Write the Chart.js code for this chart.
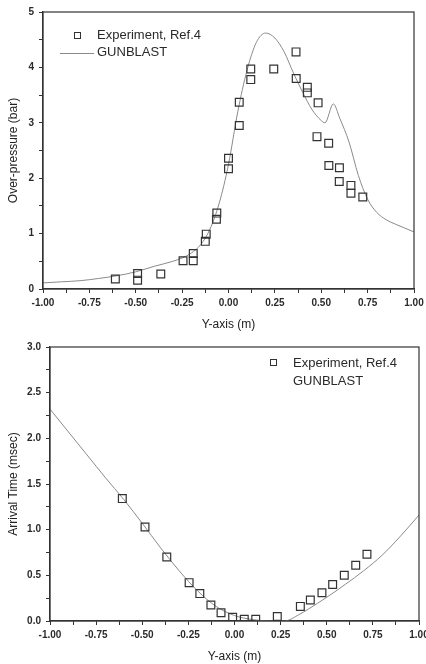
<!DOCTYPE html>
<html>
<head>
<meta charset="utf-8">
<script src="https://cdn.jsdelivr.net/npm/chart.js@4.4.1/dist/chart.umd.min.js"></script>
<style>
  html, body { margin: 0; padding: 0; background: #ffffff; }
  body { width: 426px; height: 664px; position: relative; overflow: hidden; font-family: "Liberation Sans", Arial, sans-serif; }
  .wrap { position: absolute; left: 0; width: 426px; height: 332px; }
  #w1 { top: 0; }
  #w2 { top: 332px; }
  .leg { position: absolute; font-size: 13px; color: #2a2a2a; line-height: 16px; white-space: nowrap; }
  .sq { position: absolute; width: 5px; height: 5px; border: 1px solid #333; }
  .ln { position: absolute; height: 0; border-top: 1px solid #8a8a8a; }
</style>
</head>
<body>
<div class="wrap" id="w1"><canvas id="c1" width="426" height="332"></canvas></div>
<div class="wrap" id="w2"><canvas id="c2" width="426" height="332"></canvas></div>

<!-- legend chart 1 -->
<div class="sq" style="left:74px;top:32px;"></div>
<div class="leg" style="left:97px;top:27px;">Experiment, Ref.4</div>
<div class="ln" style="left:60px;top:53px;width:34px;"></div>
<div class="leg" style="left:97px;top:44px;">GUNBLAST</div>

<!-- legend chart 2 -->
<div class="sq" style="left:270px;top:359px;"></div>
<div class="leg" style="left:293px;top:355px;">Experiment, Ref.4</div>
<div class="leg" style="left:293px;top:373px;">GUNBLAST</div>

<script>
// ---------- Chart 1: over-pressure ----------
const opExpX = [-0.61, -0.49, -0.49, -0.365, -0.245, -0.19, -0.19, -0.125, -0.12, -0.065, -0.063,
                0.0, 0.0, 0.058, 0.058, 0.12, 0.12, 0.244, 0.364, 0.365, 0.425, 0.425, 0.483,
                0.477, 0.54, 0.541, 0.598, 0.597, 0.66, 0.66, 0.724];
const opExpY = [0.18, 0.16, 0.28, 0.27, 0.51, 0.51, 0.64, 0.86, 0.99, 1.26, 1.37,
                2.17, 2.36, 2.95, 3.37, 3.78, 3.97, 3.97, 4.28, 3.80, 3.64, 3.54, 3.36,
                2.75, 2.63, 2.23, 2.19, 1.94, 1.87, 1.73, 1.66];
const opGunX = [-1.0, -0.9, -0.8, -0.7, -0.6, -0.5, -0.4, -0.3, -0.25, -0.2, -0.15, -0.1, -0.05,
                0.0, 0.05, 0.1, 0.15, 0.2, 0.25, 0.3, 0.35, 0.4, 0.45, 0.5, 0.52, 0.565,
                0.6, 0.65, 0.7, 0.75, 0.8, 0.85, 0.9, 0.95, 1.0];
const opGunY = [0.11, 0.13, 0.15, 0.19, 0.24, 0.31, 0.41, 0.50, 0.56, 0.65, 0.80, 1.08, 1.55,
                2.25, 3.2, 3.95, 4.45, 4.62, 4.53, 4.28, 3.9, 3.55, 3.24, 3.04, 3.0, 3.34,
                3.08, 2.65, 2.05, 1.62, 1.38, 1.25, 1.17, 1.1, 1.03];

// ---------- Chart 2: arrival time ----------
const atExpX = [-0.608, -0.485, -0.367, -0.246, -0.188, -0.128, -0.073, -0.01, 0.053, 0.115, 0.232,
                0.357, 0.411, 0.474, 0.532, 0.595, 0.657, 0.718];
const atExpY = [1.34, 1.03, 0.70, 0.42, 0.30, 0.175, 0.09, 0.04, 0.02, 0.02, 0.05,
                0.16, 0.23, 0.31, 0.40, 0.50, 0.61, 0.73];
const atGunX = [-1.0, -0.9, -0.8, -0.7, -0.6, -0.5, -0.4, -0.3, -0.2, -0.1, 0.0, 0.1, 0.2, 0.27,
                0.35, 0.4, 0.5, 0.6, 0.7, 0.8, 0.9, 1.0];
const atGunY = [2.32, 2.07, 1.82, 1.57, 1.33, 1.07, 0.80, 0.55, 0.33, 0.16, 0.06, 0.015, 0.0, 0.0,
                0.07, 0.13, 0.26, 0.40, 0.55, 0.72, 0.93, 1.16];

// ---------- ticks ----------
const xMajorTicks = [-1.0, -0.75, -0.5, -0.25, 0.0, 0.25, 0.5, 0.75, 1.0];
const xMajorLabels = ['-1.00', '-0.75', '-0.50', '-0.25', '0.00', '0.25', '0.50', '0.75', '1.00'];
const xMinorTicks = [-0.875, -0.625, -0.375, -0.125, 0.125, 0.375, 0.625, 0.875];
const op_yMajorTicks = [0, 1, 2, 3, 4, 5];
const op_yMajorLabels = ['0', '1', '2', '3', '4', '5'];
const op_yMinorTicks = [0.5, 1.5, 2.5, 3.5, 4.5];
const at_yMajorTicks = [0, 0.5, 1.0, 1.5, 2.0, 2.5, 3.0];
const at_yMajorLabels = ['0.0', '0.5', '1.0', '1.5', '2.0', '2.5', '3.0'];
const at_yMinorTicks = [0.25, 0.75, 1.25, 1.75, 2.25, 2.75];

const zip = (xs, ys) => xs.map((x, i) => ({ x: x, y: ys[i] }));

const boxPlugin = {
  id: 'box',
  afterDraw(chart) {
    const a = chart.chartArea, ctx = chart.ctx;
    ctx.save();
    ctx.strokeStyle = '#333';
    ctx.lineWidth = 1.2;
    ctx.strokeRect(a.left, a.top, a.right - a.left, a.bottom - a.top);
    ctx.restore();
  }
};

function axis(opts) {
  const majors = opts.majors, labels = opts.labels, minors = opts.minors;
  const all = majors.concat(minors).sort((a, b) => a - b);
  return {
    type: 'linear',
    position: opts.position,
    min: opts.min, max: opts.max,
    afterBuildTicks(scale) { scale.ticks = all.map(v => ({ value: v })); },
    afterFit(scale) {
      if (opts.position === 'left') { scale.width = opts.size; scale.paddingTop = 0; scale.paddingBottom = 0; }
      else { scale.height = opts.size; scale.paddingLeft = 0; scale.paddingRight = 0; }
    },
    ticks: {
      autoSkip: false,
      maxRotation: 0,
      minRotation: 0,
      padding: opts.position === 'left' ? 5 : 4,
      color: '#2a2a2a',
      font: { family: 'Liberation Sans', size: 10, weight: 'bold' },
      callback(value) {
        const i = majors.findIndex(m => Math.abs(m - value) < 1e-6);
        return i >= 0 ? labels[i] : '';
      }
    },
    grid: {
      display: true,
      drawOnChartArea: false,
      drawTicks: true,
      tickLength: 4,
      tickColor: '#333',
      tickWidth: 1
    },
    border: { display: true, color: '#333', width: 1.2 },
    title: {
      display: true,
      text: opts.title,
      color: '#222',
      font: { family: 'Liberation Sans', size: 12 },
      padding: opts.position === 'left' ? { top: 6, bottom: 0 } : { top: 2, bottom: 0 }
    }
  };
}

function makeChart(id, expX, expY, gunX, gunY, ymin, ymax, yMaj, yLab, yMin, ytitle, ywidth, pad) {
  new Chart(document.getElementById(id), {
    type: 'scatter',
    data: {
      datasets: [
        {
          label: 'Experiment, Ref.4',
          data: zip(expX, expY),
          showLine: false,
          pointStyle: 'rect',
          pointRadius: 5.5,
          pointBorderColor: '#333',
          pointBackgroundColor: 'rgba(0,0,0,0)',
          pointBorderWidth: 1.2
        },
        {
          label: 'GUNBLAST',
          data: zip(gunX, gunY),
          showLine: true,
          borderColor: '#8a8a8a',
          borderWidth: 1,
          pointRadius: 0,
          cubicInterpolationMode: 'monotone',
          fill: false
        }
      ]
    },
    options: {
      responsive: false,
      animation: false,
      devicePixelRatio: 1,
      layout: { padding: pad },
      plugins: { legend: { display: false }, tooltip: { enabled: false } },
      scales: {
        x: axis({ position: 'bottom', min: -1, max: 1, majors: xMajorTicks, labels: xMajorLabels,
                  minors: xMinorTicks, title: 'Y-axis (m)', size: 43 }),
        y: axis({ position: 'left', min: ymin, max: ymax, majors: yMaj, labels: yLab,
                  minors: yMin, title: ytitle, size: ywidth })
      }
    },
    plugins: [boxPlugin]
  });
}

makeChart('c1', opExpX, opExpY, opGunX, opGunY, 0, 5, op_yMajorTicks, op_yMajorLabels, op_yMinorTicks,
          'Over-pressure (bar)', 43, { left: 0, right: 12, top: 12, bottom: 0 });
makeChart('c2', atExpX, atExpY, atGunX, atGunY, 0, 3, at_yMajorTicks, at_yMajorLabels, at_yMinorTicks,
          'Arrival Time (msec)', 50, { left: 0, right: 7, top: 15, bottom: 0 });
</script>
</body>
</html>
